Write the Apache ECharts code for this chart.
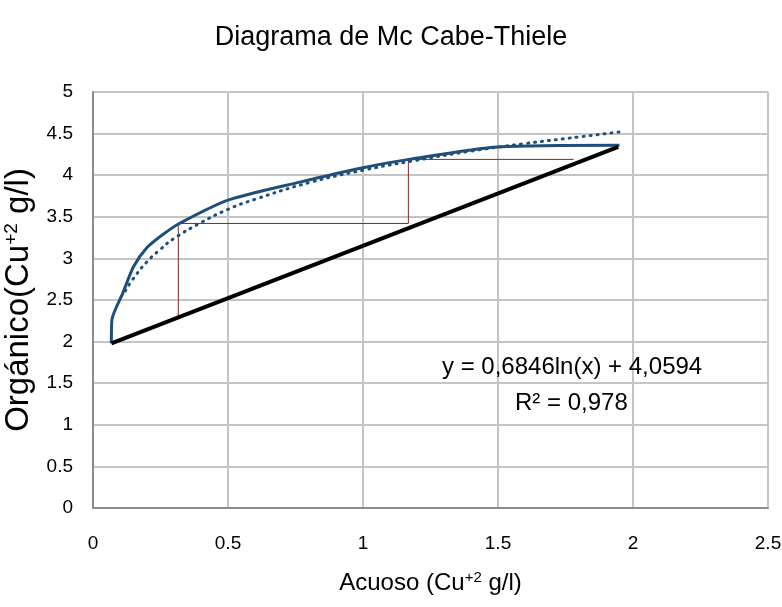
<!DOCTYPE html>
<html><head><meta charset="utf-8">
<script src="https://cdn.jsdelivr.net/npm/echarts@6/dist/echarts.min.js"></script>
<style>html,body{margin:0;padding:0;background:#fff}#c{width:782px;height:607px}</style>
</head><body><div id="c"></div>
<script>
// Equilibrium curve
const eqX = [0.068, 0.07, 0.11, 0.15, 0.2, 0.26, 0.32, 0.5, 0.77, 1.0, 1.17, 1.5, 1.95];
const eqY = [1.98, 2.26, 2.58, 2.90, 3.13, 3.29, 3.42, 3.70, 3.92, 4.09, 4.19, 4.34, 4.36];
// Logarithmic trend line points (dotted)
const trX = [0.12, 0.15, 0.2, 0.25, 0.3, 0.4, 0.5, 0.6, 0.8, 1.0, 1.2, 1.4, 1.6, 1.8, 1.95];
const trY = [2.61, 2.76, 2.96, 3.11, 3.24, 3.43, 3.59, 3.71, 3.91, 4.06, 4.18, 4.29, 4.38, 4.46, 4.52];
// Operating line
const opX = [0.068, 1.945];
const opY = [1.98, 4.34];
// Steps
const stX = [1.78, 1.168, 1.168, 0.316, 0.316];
const stY = [4.19, 4.19, 3.42, 3.42, 2.30];
// Axis ticks
const xTicks = [0, 0.5, 1, 1.5, 2, 2.5];
const yTicks = [0, 0.5, 1, 1.5, 2, 2.5, 3, 3.5, 4, 4.5, 5];

const zip = (a, b) => a.map((v, i) => [v, b[i]]);
const chart = echarts.init(document.getElementById('c'));
const SANS = "'Liberation Sans', Arial, sans-serif";
chart.setOption({
  animation: false,
  backgroundColor: '#fff',
  title: {
    text: 'Diagrama de Mc Cabe-Thiele', left: 'center', top: 19,
    textStyle: { fontFamily: SANS, fontSize: 27, fontWeight: 'normal', color: '#000' }
  },
  grid: { left: 93, right: 14, top: 92, bottom: 99, outerBoundsMode: 'none', containLabel: false },
  xAxis: {
    type: 'value', min: xTicks[0], max: xTicks[xTicks.length - 1], interval: 0.5,
    axisLine: { show: true, lineStyle: { color: '#8c8c8c', width: 2 } },
    axisTick: { show: false },
    splitLine: { lineStyle: { color: '#c4c4c4', width: 2 } },
    axisLabel: { fontFamily: SANS, fontSize: 19, color: '#000', margin: 26 },
    name: 'Acuoso (Cu{s|+2} g/l)', nameLocation: 'middle', nameGap: 62,
    nameTextStyle: {
      fontFamily: SANS, fontSize: 24, color: '#000',
      rich: { s: { fontFamily: SANS, fontSize: 15, color: '#000', padding: [0, 0, 12, 0] } }
    }
  },
  yAxis: {
    type: 'value', min: yTicks[0], max: yTicks[yTicks.length - 1], interval: 0.5,
    axisLine: { show: true, lineStyle: { color: '#8c8c8c', width: 2 } },
    axisTick: { show: false },
    splitLine: { lineStyle: { color: '#c4c4c4', width: 2 } },
    axisLabel: { fontFamily: SANS, fontSize: 19, color: '#000', margin: 20 },
    name: 'Orgánico(Cu{s|+2} g/l)', nameLocation: 'middle', nameGap: 40, nameRotate: 90,
    nameTextStyle: {
      fontFamily: SANS, fontSize: 33, color: '#000',
      rich: { s: { fontFamily: SANS, fontSize: 19, color: '#000', padding: [0, 0, 15, 0] } }
    }
  },
  series: [
    {
      type: 'line', data: zip(trX, trY), smooth: true, symbol: 'none',
      lineStyle: { color: '#1F4E79', width: 3, type: [1, 6], cap: 'round' }, z: 3
    },
    {
      type: 'line', data: zip(eqX, eqY), smooth: 0.25, symbol: 'none',
      lineStyle: { color: '#1F4E79', width: 3 }, z: 4
    },
    {
      type: 'line', data: zip(opX, opY), symbol: 'none',
      lineStyle: { color: '#000', width: 4 }, z: 5
    },
    {
      type: 'line', data: zip(stX, stY), symbol: 'none',
      lineStyle: { color: '#7a2a2a', width: 1 }, z: 2
    }
  ],
  graphic: [
    { type: 'text', z: 100, left: 442, top: 355, style: { text: 'y = 0,6846ln(x) + 4,0594', fontFamily: SANS, fontSize: 24, fill: '#000' } },
    { type: 'text', z: 100, left: 515, top: 391, style: { text: 'R² = 0,978', fontFamily: SANS, fontSize: 24, fill: '#000' } }
  ]
});
</script></body></html>
